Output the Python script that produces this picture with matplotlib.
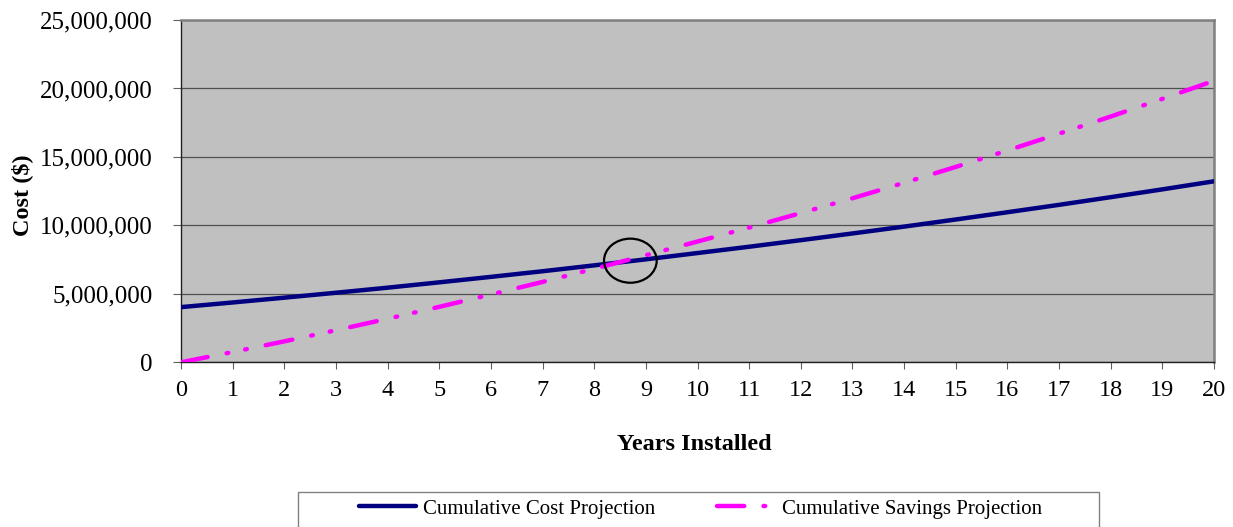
import matplotlib
matplotlib.use("Agg")
import matplotlib.pyplot as plt
import numpy as np
from matplotlib.patches import Ellipse, Rectangle
from matplotlib.ticker import FuncFormatter, MultipleLocator

plt.rcParams["lines.scale_dashes"] = False
plt.rcParams["font.family"] = ["Liberation Serif", "DejaVu Serif"]

years = list(range(0, 21))
cumulative_cost = [4.03, 4.37, 4.72, 5.08, 5.45, 5.84, 6.24, 6.65, 7.08, 7.52, 7.98,
                   8.44, 8.92, 9.41, 9.91, 10.43, 10.96, 11.50, 12.06, 12.63, 13.22]
cumulative_savings = [0.00, 0.75, 1.53, 2.34, 3.18, 4.05, 4.95, 5.87, 6.83, 7.82, 8.82,
                      9.84, 10.90, 11.98, 13.11, 14.27, 15.47, 16.70, 17.95, 19.24, 20.56]
series_labels = ["Cumulative Cost Projection", "Cumulative Savings Projection"]

# Break-even ring (centre year, centre value in $M, width in years, height in $M)
ring_center = (8.7, 7.42)
ring_size = (1.02, 3.22)

cost = np.array(cumulative_cost) * 1e6
savings = np.array(cumulative_savings) * 1e6
x = np.array(years, dtype=float)

W, H = 1233, 527
fig = plt.figure(figsize=(W / 100, H / 100), dpi=100)
ax = fig.add_axes([181 / W, 1 - 362.3 / H, (1214 - 181) / W, (362.3 - 20) / H])
ax.set_facecolor("#C0C0C0")

ax.set_xlim(0, 20)
ax.set_ylim(0, 25e6)
ax.xaxis.set_major_locator(MultipleLocator(1))
ax.yaxis.set_major_locator(MultipleLocator(5e6))
ax.yaxis.set_major_formatter(FuncFormatter(lambda v, p: f"{int(v):,}"))

ax.grid(axis="y", color="#505050", linewidth=0.9, zorder=1)
ax.set_axisbelow(True)

l1, = ax.plot(x, cost, color="#000080", linewidth=3.2, solid_capstyle="round",
              zorder=3, label=series_labels[0])
l2, = ax.plot(x, savings, color="#FF00FF", linewidth=3.2, dash_capstyle="round",
              dashes=(19.6, 13.9, 1.2, 12.4, 1.2, 13.9), zorder=4, label=series_labels[1])

ax.add_patch(Ellipse((ring_center[0], ring_center[1] * 1e6), width=ring_size[0],
                     height=ring_size[1] * 1e6, fill=False,
                     edgecolor="black", linewidth=1.6, zorder=5))

for side in ("left", "bottom"):
    ax.spines[side].set_color("#202020")
    ax.spines[side].set_linewidth(1.0)
for side in ("top", "right"):
    ax.spines[side].set_color("#808080")
    ax.spines[side].set_linewidth(1.8)

ax.tick_params(axis="y", direction="out", length=5.5, width=0.8, color="#606060",
               pad=15, labelsize=18)
ax.tick_params(axis="x", direction="out", length=5, width=0.8, color="#606060",
               pad=8, labelsize=17.5)

fig.text(22 / W, 1 - 195 / H, "Cost ($)", rotation=90, ha="center", va="center",
         fontsize=17.5, fontweight="bold")
fig.text(694 / W, 1 - 445 / H, "Years Installed", ha="center", va="center",
         fontsize=17.5, fontweight="bold")

leg = fig.legend(handles=[l1, l2], loc="center left", ncol=2, frameon=False,
                 bbox_to_anchor=(358.7 / W, 1 - 509 / H), borderpad=0, borderaxespad=0,
                 fontsize=15, handlelength=2.76, handletextpad=0.34, columnspacing=2.97)
fig.patches.append(Rectangle((298 / W, -0.05), (1099 - 298) / W, (1 - 492 / H) + 0.05,
                             transform=fig.transFigure, fill=False,
                             edgecolor="#808080", linewidth=1.0))

fig.savefig("out.png", dpi=100)
